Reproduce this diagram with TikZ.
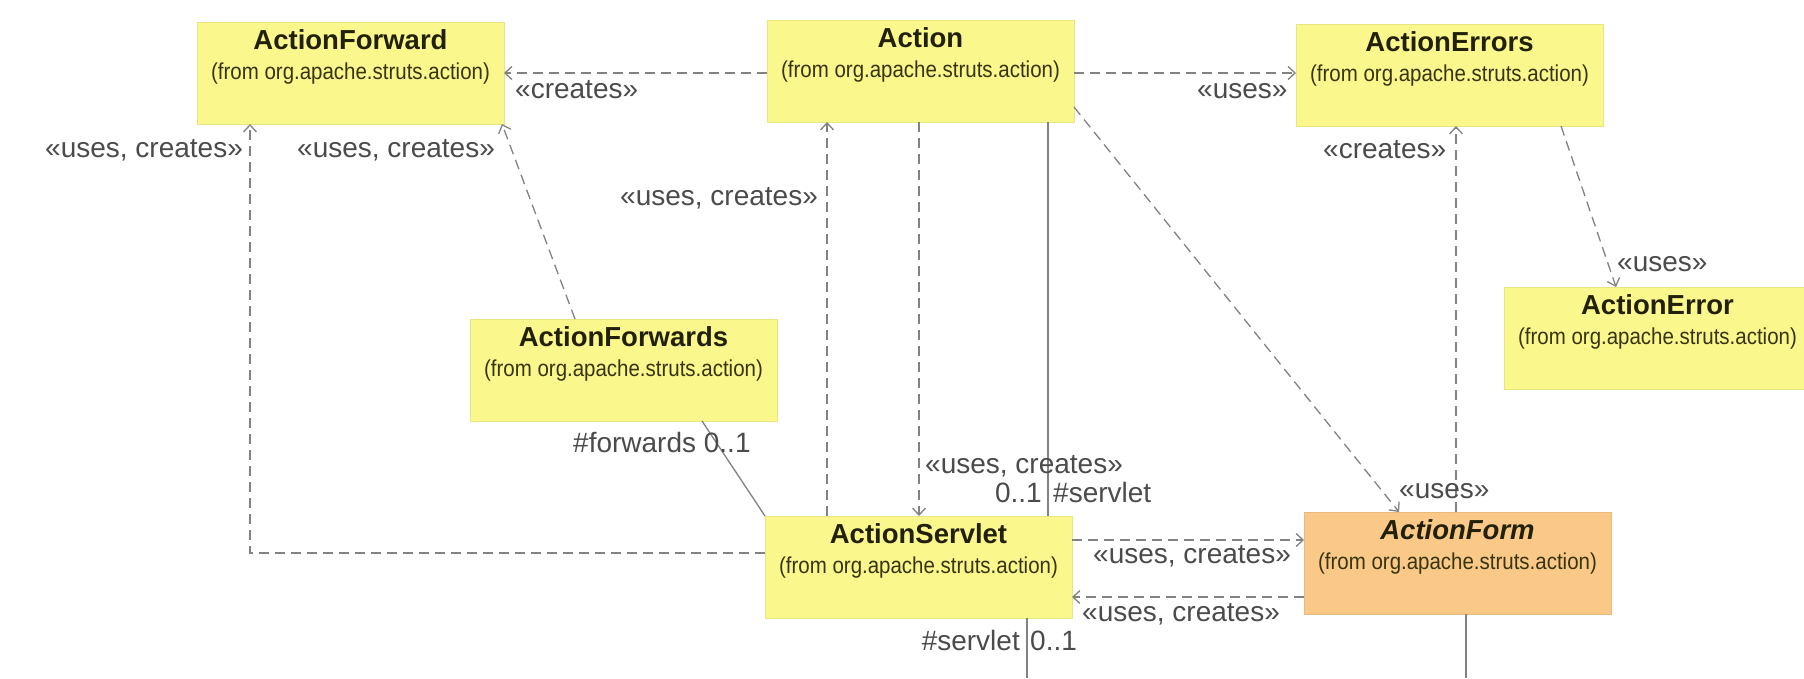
\documentclass[tikz,border=0pt]{standalone}
\usepackage{fontspec}
\setmainfont{Liberation Sans}
\newfontfamily\subf[FakeStretch=0.89]{Liberation Sans}
\usetikzlibrary{arrows.meta,calc}
\definecolor{boxyel}{RGB}{250,247,140}
\definecolor{boxorg}{RGB}{250,200,135}
\definecolor{ttl}{RGB}{35,32,10}
\definecolor{subc}{RGB}{55,52,15}
\definecolor{lnc}{RGB}{130,130,130}
\definecolor{lblc}{RGB}{75,75,75}
\newcommand{\clsbox}[3]{\vbox to 102pt{\offinterlineskip\hsize=307pt
 \kern27pt\hbox to 307pt{\hss\smash{\color{ttl}\fontsize{27.5}{30}\selectfont\bfseries#1#2}\hss}%
 \kern30pt\hbox to 307pt{\hss\smash{\color{subc}\subf\fontsize{23}{26}\selectfont #3}\hss}\vss}}
\tikzset{
 cls/.style={inner sep=0pt, outer sep=0pt, anchor=north west, fill=boxyel, draw=boxyel!93!black, line width=0.5pt},
 clsorange/.style={cls, fill=boxorg, draw=boxorg!93!black},
 dep/.style={draw=lnc, line width=1.3pt, dash pattern=on 10pt off 6pt, -{Straight Barb[length=7pt,width=13pt]}},
 assoc/.style={draw=lnc, line width=1.3pt},
 lbl/.style={text=lblc, font=\fontsize{28}{32}\selectfont, inner sep=0pt, anchor=base west},
 lble/.style={lbl, anchor=base east}
}
\begin{document}
\begin{tikzpicture}[x=1pt,y=-1pt]
\useasboundingbox (0,0) rectangle (1804,678);
\fill[white] (0,0) rectangle (1804,678);
% classes
\node[cls] (af) at (197,22) {\clsbox{}{ActionForward}{(from org.apache.struts.action)}};
\node[cls] (act) at (767,20) {\clsbox{}{Action}{(from org.apache.struts.action)}};
\node[cls] (aes) at (1296,24) {\clsbox{}{ActionErrors}{(from org.apache.struts.action)}};
\node[cls] (aerr) at (1504,287) {\clsbox{}{ActionError}{(from org.apache.struts.action)}};
\node[cls] (afs) at (470,319) {\clsbox{}{ActionForwards}{(from org.apache.struts.action)}};
\node[cls] (as) at (765,516) {\clsbox{}{ActionServlet}{(from org.apache.struts.action)}};
\node[clsorange] (afm) at (1304,512) {\clsbox{\itshape}{ActionForm}{(from org.apache.struts.action)}};
% connectors
\draw[dep] ($(act.north west)+(0,53)$) -- ($(af.north east)+(0,51)$);
\draw[dep] ($(act.north east)+(0,53)$) -- ($(aes.north west)+(0,49)$);
\draw[dep] ($(as.north west)+(0,37)$) -| ($(af.south west)+(53,0)$);
\draw[dep] ($(afs.north west)+(105,0)$) -- ($(af.south east)+(-2,0)$);
\draw[dep] ($(as.north west)+(62,0)$) -- ($(act.south west)+(60,0)$);
\draw[dep] ($(act.south west)+(152,0)$) -- ($(as.north west)+(154,0)$);
\draw[assoc] ($(act.south west)+(281,0)$) -- ($(as.north west)+(283,0)$);
\draw[dep] ($(act.south east)+(0,-15)$) -- ($(afm.north west)+(95,0)$);
\draw[dep] ($(afm.north west)+(152,0)$) -- ($(aes.south west)+(160,0)$);
\draw[dep] ($(aes.south west)+(265,0)$) -- ($(aerr.north west)+(112,0)$);
\draw[dep] ($(as.north east)+(0,24)$) -- ($(afm.north west)+(0,28)$);
\draw[dep] ($(afm.north west)+(0,85)$) -- ($(as.north east)+(0,81)$);
\draw[assoc] ($(afs.south west)+(232,0)$) -- (as.north west);
\coordinate (e1) at (1027,678);
\coordinate (e2) at (1466,678);
\draw[assoc] ($(as.south west)+(262,0)$) -- (e1);
\draw[assoc] ($(afm.south west)+(162,0)$) -- (e2);
% labels
\node[lbl] (l1) at (515,98) {«creates»};
\node[lbl] (l2) at (1197,98) {«uses»};
\node[lbl] (l3) at (45,157) {«uses, creates»};
\node[lbl] (l4) at (297,157) {«uses, creates»};
\node[lbl] (l5) at (620,205) {«uses, creates»};
\node[lbl] (l6) at (925,473) {«uses, creates»};
\node[lble] (m1) at (1042,502) {0..1};
\node[lbl] (m2) at (1053,502) {\#servlet};
\node[lbl] (l7) at (1399,498) {«uses»};
\node[lbl] (l8) at (1323,158) {«creates»};
\node[lbl] (l9) at (1617,271) {«uses»};
\node[lbl] (l10) at (1093,563) {«uses, creates»};
\node[lbl] (l11) at (1082,621) {«uses, creates»};
\node[lbl] (m3) at (573,452) {\#forwards 0..1};
\node[lble] (m4) at (1020,650) {\#servlet};
\node[lbl] (m5) at (1030,650) {0..1};
\end{tikzpicture}
\end{document}
